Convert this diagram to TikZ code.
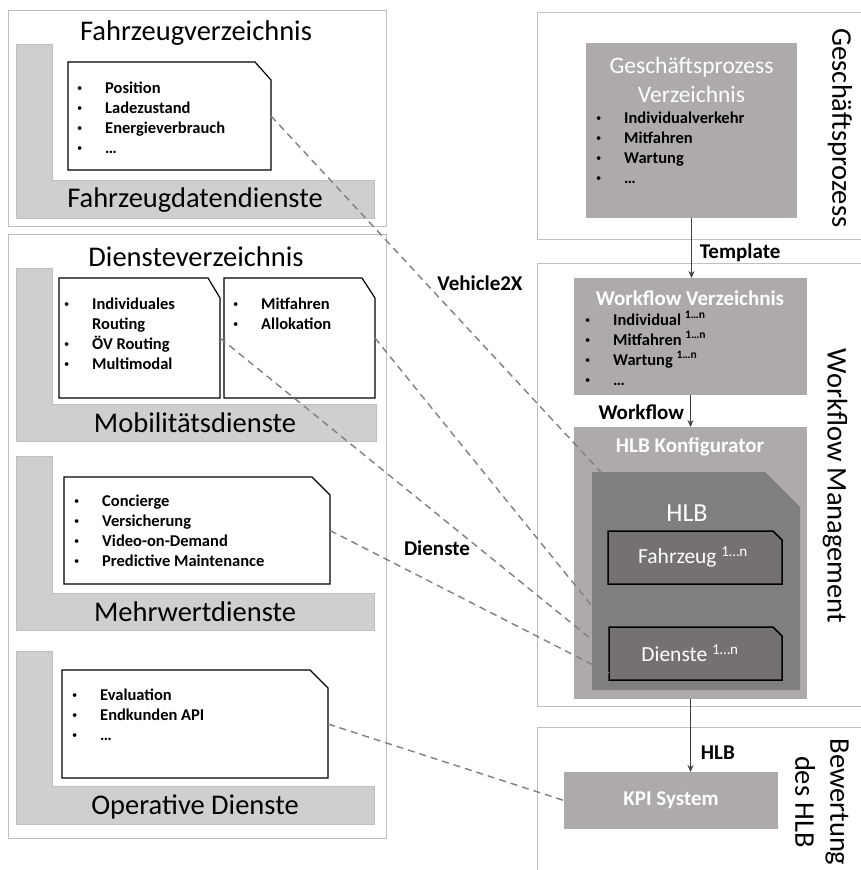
\documentclass[tikz,border=0pt]{standalone}
\usepackage{fontspec}
\setmainfont{Carlito}
\usetikzlibrary{arrows.meta}
\definecolor{frame}{HTML}{BFBFBF}
\definecolor{lgray}{HTML}{D0CECE}
\definecolor{mgray}{HTML}{AEAAAA}
\definecolor{dgray}{HTML}{7F7F7F}
\definecolor{ddgray}{HTML}{767171}
\definecolor{dashgray}{HTML}{808080}
\newcommand\cutnode[8]{%
  \node[inner sep=0pt, outer sep=0pt, minimum width={(#5-#3)*1pt}, minimum height={(#6-#4)*1pt}] (#2) at ({(#3+#5)/2},{(#4+#6)/2}) {};
  \path[#1] (#2.north west) -- ([xshift=-#7pt]#2.north east) -- ([yshift=-#8pt]#2.north east) -- (#2.south east) -- (#2.south west) -- cycle;}
\newcommand\rectnode[6]{%
  \node[#1, inner sep=0pt, outer sep=0pt, minimum width={(#5-#3)*1pt}, minimum height={(#6-#4)*1pt}] (#2) at ({(#3+#5)/2},{(#4+#6)/2}) {};}
\newcommand\bl[1]{\begin{tabular}[t]{@{}p{28pt}@{}l@{}}#1\end{tabular}}
\newcommand\bul{\raisebox{1.6pt}{\mdseries\fontsize{10.5}{10.5}\selectfont\textbullet}}
\tikzset{
  frameline/.style={draw=frame, line width=1pt, fill=white},
  lshape/.style={draw=frame, fill=lgray, line width=0.8pt},
  note/.style={draw=black, fill=white, line width=1.2pt},
  title/.style={font=\fontsize{28.5}{35}\selectfont, inner sep=0pt},
  blist/.style={anchor=base west, inner sep=0pt, font=\fontsize{16.5}{20}\selectfont\bfseries, align=left},
  lbl/.style={font=\fontsize{21}{25}\selectfont\bfseries, inner sep=0pt},
  wbold/.style={text=white, font=\fontsize{21}{25}\selectfont\bfseries, inner sep=0pt},
  wreg/.style={text=white, font=\fontsize{21.5}{26}\selectfont, inner sep=0pt},
  link/.style={draw=dashgray, line width=1.4pt, dash pattern=on 7pt off 5pt},
  flow/.style={draw=black!75, line width=0.8pt, -{Stealth[length=7pt,width=6pt]}},
  hlbbox/.style={fill=ddgray, draw=black, line width=1.5pt},
}
\begin{document}
\begin{tikzpicture}[x=1pt,y=-1pt]
\useasboundingbox (0,0) rectangle (861,870);
\clip (0,0) rectangle (861,870);
\fill[white] (0,0) rectangle (861,870);
% ---------- Fahrzeugverzeichnis
\draw[frameline] (8,10) rectangle (386,226);
\path[lshape] (16,44) -- (52,44) -- (52,180) -- (374,180) -- (374,218) -- (16,218) -- cycle;
\node[title] (fzv) at (196,33) {Fahrzeugverzeichnis};
\node[title] (fzd) at (195,200) {Fahrzeugdatendienste};
\cutnode{note}{fzn}{68}{62}{271}{170}{16}{18}
\node[blist] (fzl) at (77,93) {\bl{\bul & Position\\ \bul & Ladezustand\\ \bul & Energieverbrauch\\ \bul & …}};
% ---------- Diensteverzeichnis
\draw[frameline] (8,234) rectangle (386,838);
\node[title] (dv) at (196,257) {Diensteverzeichnis};
\path[lshape] (16,268) -- (52,268) -- (52,404) -- (376,404) -- (376,441) -- (16,441) -- cycle;
\node[title] (mob) at (195,423) {Mobilitätsdienste};
\cutnode{note}{mn1}{59}{278}{220}{398}{12}{20}
\cutnode{note}{mn2}{224}{278}{375}{398}{13}{20}
\node[blist] (ml1) at (64,309) {\bl{\bul & Individuales\\ & Routing\\ \bul & ÖV Routing\\ \bul & Multimodal}};
\node[blist] (ml2) at (233,309) {\bl{\bul & Mitfahren\\ \bul & Allokation}};
\path[lshape] (16,456) -- (52,456) -- (52,593) -- (374,593) -- (374,630) -- (16,630) -- cycle;
\node[title] (mwd) at (195,612) {Mehrwertdienste};
\cutnode{note}{mwn}{64}{477}{330}{584}{18}{18}
\node[blist] (mwl) at (74,506) {\bl{\bul & Concierge\\ \bul & Versicherung\\ \bul & Video-on-Demand\\ \bul & Predictive Maintenance}};
\path[lshape] (16,651) -- (52,651) -- (52,786) -- (374,786) -- (374,824) -- (16,824) -- cycle;
\node[title] (opd) at (195,807) {Operative Dienste};
\cutnode{note}{opn}{62}{670}{328}{778}{18}{18}
\node[blist] (opl) at (72,700) {\bl{\bul & Evaluation\\ \bul & Endkunden API\\ \bul & …}};
% ---------- Geschaeftsprozess
\draw[frameline] (537,12) rectangle (880,239);
\rectnode{fill=mgray}{gp}{586}{43}{797}{218}
\node[text=white, font=\fontsize{23.5}{29}\selectfont, align=center, inner sep=0pt] (gpt) at (691.5,80) {Geschäftsprozess\\Verzeichnis};
\node[blist] (gpl) at (596,123) {\bl{\bul & Individualverkehr\\ \bul & Mitfahren\\ \bul & Wartung\\ \bul & …}};
\node[title, rotate=-90] (gplab) at (840,128) {Geschäftsprozess};
% ---------- Workflow Management
\draw[frameline] (537,263) rectangle (880,706);
\rectnode{fill=mgray}{wv}{574}{278}{807}{395}
\node[wbold] (wvt) at (690,298) {Workflow Verzeichnis};
\node[blist] (wvl) at (585,325) {\bl{\bul & Individual \textsuperscript{1…n}\\ \bul & Mitfahren \textsuperscript{1…n}\\ \bul & Wartung \textsuperscript{1…n}\\ \bul & …}};
\rectnode{fill=mgray}{hk}{574}{427}{807}{699}
\node[wbold] (hkt) at (690,447) {HLB Konfigurator};
\cutnode{fill=dgray}{hlb}{592}{472}{800}{690}{35}{35}
\node[text=white, font=\fontsize{26}{30}\selectfont, inner sep=0pt] (hlbt) at (687,513) {HLB};
\cutnode{hlbbox}{fz}{608}{531}{782}{584}{9}{9}
\node[wreg] (fzt) at (693,557) {Fahrzeug \textsuperscript{1…n}};
\cutnode{hlbbox}{dn}{609}{627}{782}{680}{9}{9}
\node[wreg] (dnt) at (690,653) {Dienste \textsuperscript{1…n}};
\node[title, rotate=-90] (wml) at (835,486) {Workflow Management};
% ---------- Bewertung
\draw[frameline] (537,727) rectangle (880,890);
\rectnode{fill=mgray}{kpi}{564}{772}{778}{829}
\node[wbold] (kpit) at (671,800) {KPI System};
\node[title, rotate=-90, align=center] (bwl) at (822,802) {Bewertung\\des HLB};
% ---------- flow arrows
\draw[flow] (gp.south) -- node[lbl, anchor=west, pos=.58, xshift=8pt] (tpl) {Template} (gp.south |- wv.north);
\draw[flow] (wv.south) -- node[lbl, anchor=east, pos=.55, xshift=-6pt] (wfl) {Workflow} (hk.north);
\draw[flow] (hk.south) -- node[lbl, anchor=west, pos=.74, xshift=10pt] (hlbl) {HLB} (hk.south |- kpi.north);
% ---------- dashed links
\coordinate (v2xend) at (648,523);
\draw[link] (fzn.east) -- (v2xend);
\draw[link] (mn1.east) -- (dn.west);
\draw[link] (mn2.east) -- (dn.north west);
\draw[link] (mwn.east) -- ([yshift=7pt]dn.south west);
\draw[link] (opn.east) -- (kpi.west);
\node[lbl] (v2x) at (480,283) {Vehicle2X};
\node[lbl] (dlab) at (437,548) {Dienste};
\end{tikzpicture}
\end{document}
